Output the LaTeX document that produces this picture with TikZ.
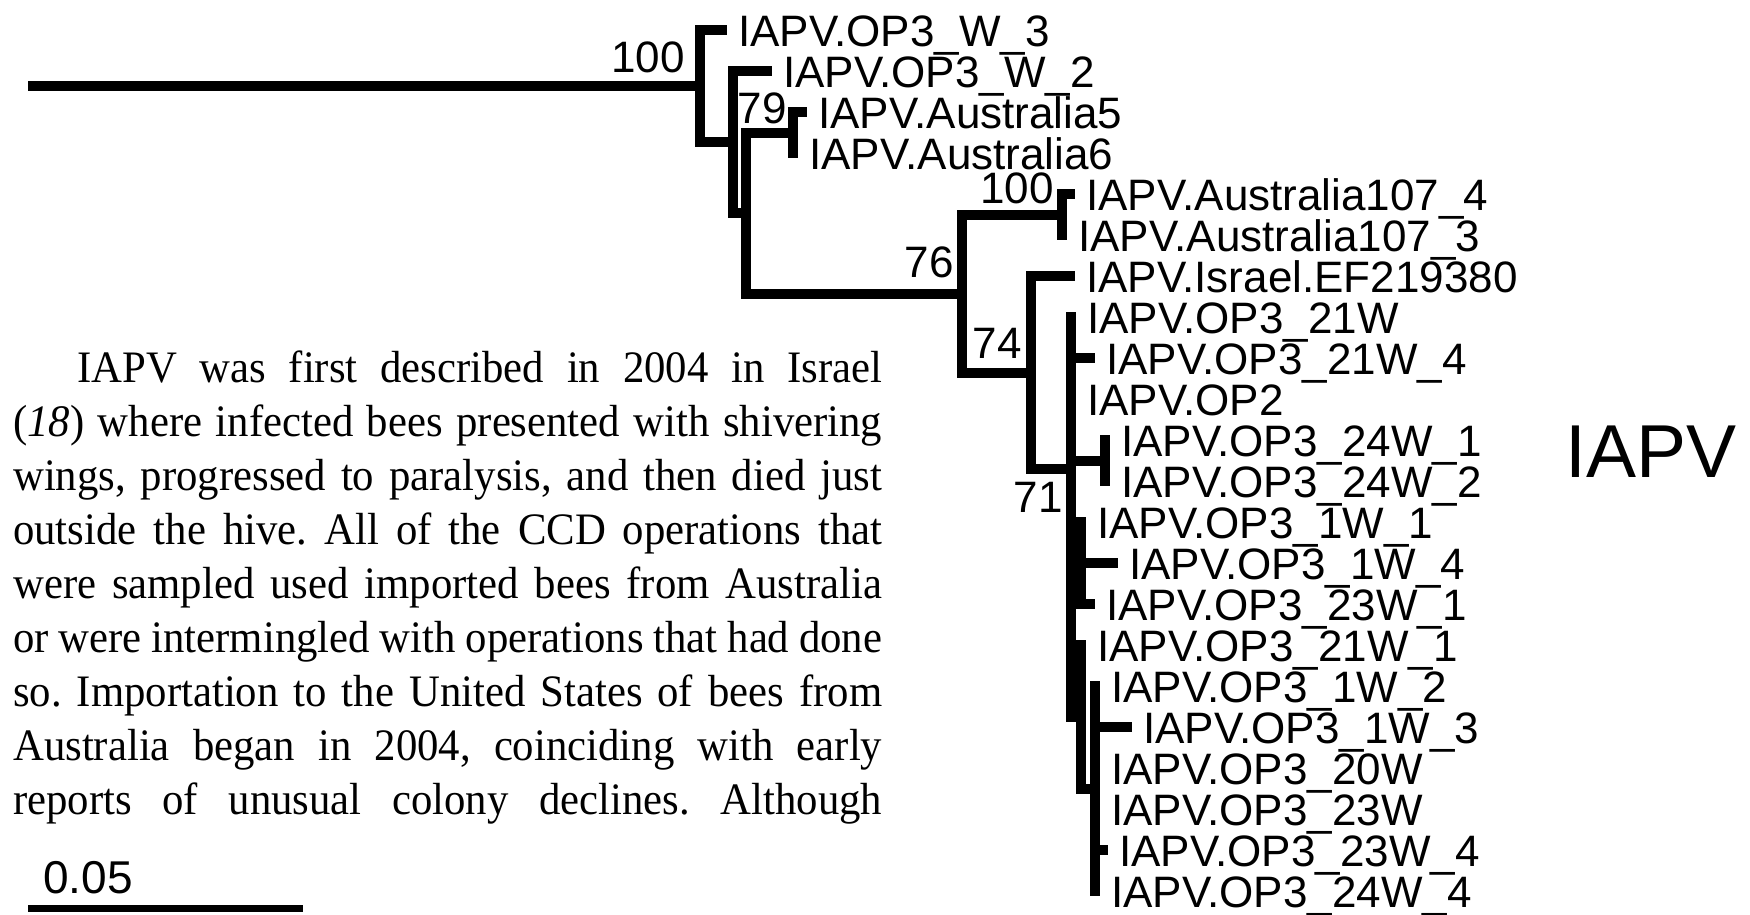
\documentclass[tikz,border=0pt]{standalone}
\usepackage{fontspec}
\newfontfamily\treefont{Liberation Sans}
\newfontfamily\bodyfont[FakeStretch=0.95]{Liberation Serif}
\usepackage{tikz}

\begin{document}
\begin{tikzpicture}[
    x=1pt, y=1pt,
    branch/.style={line width=10pt, line cap=rect, line join=miter},
    taxon/.style={anchor=base west, inner sep=0pt, xshift=16pt, yshift=-16pt, font=\treefont\fontsize{44}{50}\selectfont},
    boot/.style={anchor=base east, inner sep=0pt, font=\treefont\fontsize{44}{50}\selectfont},
    scalebar/.style={line width=7pt},
]
\useasboundingbox (0,0) rectangle (1750,-914);

% ===== TIPS =====
\coordinate (t1) at (722,-30);
\coordinate (t2) at (767,-71);
\coordinate (t3) at (802,-112);
\coordinate (t4) at (793,-153);
\coordinate (t5) at (1070,-194);
\coordinate (t6) at (1062,-235);
\coordinate (t7) at (1070,-276);
\coordinate (t8) at (1071,-317);
\coordinate (t9) at (1090,-358);
\coordinate (t10) at (1071,-399);
\coordinate (t11) at (1105,-440);
\coordinate (t12) at (1105,-481);
\coordinate (t13) at (1081,-522);
\coordinate (t14) at (1113,-563);
\coordinate (t15) at (1090,-604);
\coordinate (t16) at (1081,-645);
\coordinate (t17) at (1095,-686);
\coordinate (t18) at (1127,-727);
\coordinate (t19) at (1095,-768);
\coordinate (t20) at (1095,-809);
\coordinate (t21) at (1103,-850);
\coordinate (t22) at (1095,-891);

% ===== INNER NODES =====
\coordinate (root) at (33,-86);
\coordinate (nA) at (700,-86);
\coordinate (nB) at (733,-142);
\coordinate (nC) at (746,-213);
\coordinate (nAu) at (793,-132.5);
\coordinate (nD) at (962,-293.5);
\coordinate (nJ) at (1062,-214.5);
\coordinate (nE) at (1031,-372.5);
\coordinate (nF) at (1071,-469);
\coordinate (nK) at (1105,-460.5);
\coordinate (nG) at (1081,-563);
\coordinate (nH) at (1081,-716.75);
\coordinate (nI) at (1095,-788.5);

% ===== BRANCHES =====
\draw[branch] (root) -- (nA);
\draw[branch] (t1) -| (nA) |- (nB);
\draw[branch] (t2) -| (nB) |- (nC);
\draw[branch] (nAu) -| (nC) |- (nD);
\draw[branch] (t3) -| (nAu) -- (t4);
\draw[branch] (nJ) -| (nD) |- (nE);
\draw[branch] (t5) -| (nJ) -- (t6);
\draw[branch] (t7) -| (nE) |- (nF);
\draw[branch] (t8) -- (nF |- nH) -- (nH);
\draw[branch] (nF |- t9) -- (t9);
\draw[branch] (nF |- nK) -- (nK);
\draw[branch] (nF |- nG) -- (nG);
\draw[branch] (t11) -- (t12);
\draw[branch] (t13) -- (nG |- t15) -- (t15);
\draw[branch] (nG |- t14) -- (t14);
\draw[branch] (t16) -- (nH |- nI) -- (nI);
\draw[branch] (t17) -- (t22);
\draw[branch] (nI |- t18) -- (t18);
\draw[branch] (nI |- t21) -- (t21);

% ===== TAXA =====
\node[taxon] (xW3) at (t1) {IAPV.OP3\_W\_3};
\node[taxon] (xW2) at (t2) {IAPV.OP3\_W\_2};
\node[taxon] (xAus5) at (t3) {IAPV.Australia5};
\node[taxon] (xAus6) at (t4) {IAPV.Australia6};
\node[taxon] (xAus1074) at (t5) {IAPV.Australia107\_4};
\node[taxon] (xAus1073) at (t6) {IAPV.Australia107\_3};
\node[taxon] (xIsrael) at (t7) {IAPV.Israel.EF219380};
\node[taxon] (x21W) at (t8) {IAPV.OP3\_21W};
\node[taxon] (x21W4) at (t9) {IAPV.OP3\_21W\_4};
\node[taxon] (xOP2) at (t10) {IAPV.OP2};
\node[taxon] (x24W1) at (t11) {IAPV.OP3\_24W\_1};
\node[taxon] (x24W2) at (t12) {IAPV.OP3\_24W\_2};
\node[taxon] (x1W1) at (t13) {IAPV.OP3\_1W\_1};
\node[taxon] (x1W4) at (t14) {IAPV.OP3\_1W\_4};
\node[taxon] (x23W1) at (t15) {IAPV.OP3\_23W\_1};
\node[taxon] (x21W1) at (t16) {IAPV.OP3\_21W\_1};
\node[taxon] (x1W2) at (t17) {IAPV.OP3\_1W\_2};
\node[taxon] (x1W3) at (t18) {IAPV.OP3\_1W\_3};
\node[taxon] (x20W) at (t19) {IAPV.OP3\_20W};
\node[taxon] (x23W) at (t20) {IAPV.OP3\_23W};
\node[taxon] (x23W4) at (t21) {IAPV.OP3\_23W\_4};
\node[taxon] (x24W4) at (t22) {IAPV.OP3\_24W\_4};

% ===== SUPPORT VALUES =====
\node[boot] (bA) at (685,-72) {100};
\node[boot] (bAu) at (787,-123) {79};
\node[boot] (bJ) at (1054,-203) {100};
\node[boot] (bD) at (954,-277) {76};
\node[boot] (bE) at (1022,-358) {74};
\node[boot] (bF) at (1063,-512) {71};

\node[anchor=base west, inner sep=0pt, font=\treefont\fontsize{75}{80}\selectfont] (clade) at (1565,-477) {IAPV};

% scale bar
\coordinate (sb1) at (28,-908);
\coordinate (sb2) at (303,-908);
\draw[scalebar] (sb1) -- (sb2);
\node[anchor=base west, inner sep=0pt, font=\treefont\fontsize{46}{50}\selectfont] (sblabel) at (43,-893) {0.05};

% ===== TEXT =====
\node[anchor=base west, inner sep=0pt] (para) at (13,-382) {\parbox[t]{869pt}{\bodyfont\fontsize{45}{54}\selectfont
  \frenchspacing\parfillskip=0pt\tolerance=10000\hyphenpenalty=10000
  \hspace*{64pt}IAPV was first described in 2004 in Israel\linebreak
  (\textit{18}) where infected bees presented with shivering\linebreak
  wings, progressed to paralysis, and then died just\linebreak
  outside the hive. All of the CCD operations that\linebreak
  were sampled used imported bees from Australia\linebreak
  or were intermingled with operations that had done\linebreak
  so. Importation to the United States of bees from\linebreak
  Australia began in 2004, coinciding with early\linebreak
  reports of unusual colony declines. Although}};

\end{tikzpicture}
\end{document}
